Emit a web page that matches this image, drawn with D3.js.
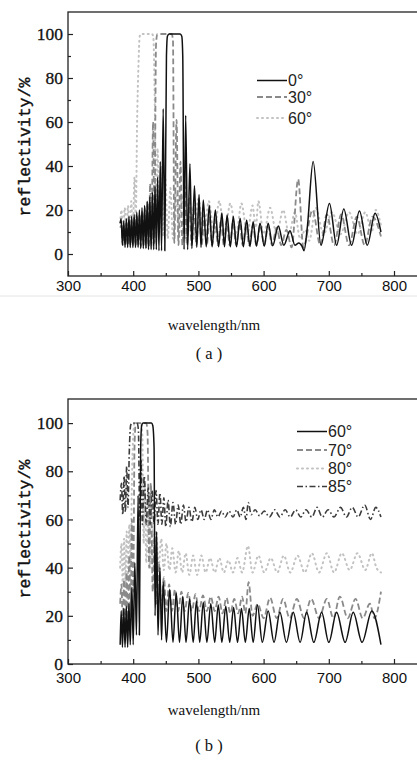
<!DOCTYPE html>
<html>
<head>
<meta charset="utf-8">
<script src="https://cdn.jsdelivr.net/npm/d3@7"></script>
<style>
  body { margin: 0; background: #fff; }
  svg { display: block; }
</style>
</head>
<body>
<script>
// ---- panel (a): reflectivity at 0°, 30°, 60° incidence ----
const wlA0 = [380,381.5,383.5,385.5,387.5,389.5,391.5,393.5,395.5,397.5,399.5,401.5,403.5,405.5,407.5,409.5,411.5,413.5,415.5,417.5,
  419.5,421.5,423.5,425.5,427.5,429.5,431.5,433.5,435.5,437.5,439.5,441.5,443.5,446,448.5,451,452.5,455,472,474.5,
  476,478,480.5,483.5,487,490,494,497.5,501,504,507.5,512,516.7,521,526,531,536,540,544,549,
  553.5,558.5,564,569,574,579,584,589,594.5,601,607,614,622.5,631,640.5,648,654,659,662,667,
  676,688,701,712,723,735,747,759,771,780]
const rA0 = [14,16,4,15,3,16,3,17,3,17,3,18,3,19,3,20,2.5,21,2.5,22,
  2.5,24,2,26,2,28,2,31,2,35,1.5,42,1.5,66,1.5,90,99,100,100,99,
  90,2,63,2,41,2.5,31,3,27,3,24.5,3.3,22,3.3,20,3.3,18.6,3.3,17.7,3.3,
  17,3.3,16.3,3.3,15.5,3.4,14.7,3.5,14,3.5,14,3.7,12.7,4,10.6,4,5,3.5,1.5,12,
  42,4,23,4,20.5,4,19.5,4,18.5,10]

const wlA30 = [380,382,384,386,388,390,392,394,396,398,400,402,404,406,408,410,412,414,416,418,420,422,424,426,428,
  430.5,432.5,435,437,459,461,463,466.5,469.5,472.5,475.5,479,482.5,486,489.5,493,497,
  501,505,509,513,517,521,525.5,530,534.5,539,543.5,548,553,558,563,568,573,578,583.5,589,
  595,601,607,613,620,627,635,643,653,661,675,687,697,708,719,731,743,755,767,780]
const rA30 = [12,13,4,13,4,14,4,14,4,15,4,16,4,17,4,18,3.5,19,3.5,21,3,24,3,32,3,
  60,5,95,100,100,97,5,61,4,42,4,31,4,25,4,22,4,
  20,4,18,4,17,4,16,4,15.5,4,15,4,14.5,4,14,4,13.5,4,13,4,
  13,4,12.5,4,12,4,11,3,34,3,20,4,18,4,18,4,17,4,17,8]

const wlA60 = [380,382,384.5,387,389.5,392,394.5,397,399.5,402,404,406,408,410,412,429,431,433,435,437.5,
  440,443,446,449.5,453,457,461,465.5,470,475,480,486,492,500,508,516,524,532,540,549,
  558,566,575,583,588,592,600,610,620,630,639,648,656,664,670,680,692,705,718,731,
  744,756,766,772,780]
const rA60 = [14,20,9,21,9,22,9,24,10,35,15,60,85,99,100,100,98,70,20,48,
  10,40,8,34,7,30,7,28,7,27,7,26,7,25,8,24,9,24,9,23,
  9,23,9,22,12,24,9,21,9,20,9,19,7,11,6,21,9,19,9,19,
  9,19,10,20,13]

// ---- panel (b): reflectivity at 60°, 70°, 80°, 85° incidence ----
const wlB60 = [380,381.5,383.5,385.5,387.5,389.5,391.5,393.5,395.5,398,400,402.5,405,407.5,409.5,411.5,413,415,428,430,
  432,433.5,436,438,441,443.5,446,451,456,461,466,471,476,481,486.5,492,497,502,507.5,513,
  519,525,530.5,536,542,548,554,560,566,572,578,584,590.5,598,607,616,625,635,645.5,656,
  666,677,689,700,712,725,737.5,751,766,780]
const rB60 = [8,22,7,23,7,24,7,25,8,32,8,42,12,70,12,90,99,100,100,99,
  90,20,55,12,40,10,34,9,31,9,29.5,9,28,9,27,9,26,9,25.5,9,
  25,9,24.5,9,24,9,23.5,9,23,9,23,9,24.5,9,22,9,21.5,9,21.5,9,
  21.5,9,21.5,9,21.5,9,21.5,9,22,8]

const wlB70 = [380,382,384,386,388,390,392,394,396,398,400,402,404,420,422,424.5,427,430,433,436,
  439.5,443,447,451,455,459.5,464,469,474,479,484.5,490,495.5,501,507,513,519,525,531,537,
  543,549,555,561,567,572,577,583,591,600,610,620,630,640,651,662,673,685,697,707,
  717,729,741,752,763,770,780]
const rB70 = [25,33,16,35,16,38,17,45,20,60,30,90,100,100,96,40,75,30,55,25,
  42,23,36,22,33,22,31,22,30,22,29.5,22,29,22,28.5,22,28,22,28,21,
  27.5,21,27,21,28,21,34,20,25,19,27.5,19,27,19,27,19,27,19,27,19,
  28,19,27,19,25,19,30]

const wlB80 = [380,382,384,386,388,390,392,394,396,398,400,402,412,414,416,418,420,423,426,429,
  432,435.5,439,443,447,451,455.5,460,465,470,475,480.5,486,492,498,504.5,511,518,525,532,
  539,546,553,560,567,576,583,592,601,611,621,631,641,652,663,674,685,697,708,720,
  732,744,756,766,773,780]
const rB80 = [40,50,33,52,34,55,36,58,40,75,95,100,100,95,50,75,42,62,40,57,
  40,54,40,52,39,50,39,48,38,47,38,46,37,45,37,45,38,44,38,44,
  38,43,38,44,38,49,38,45,38,44,38,45,38,45,38,46,38,46,38,46,
  39,46,39,46,40,38]

const wlB85 = [380,382,384,386,388,390,392,394,396,398,406,408,410,412,414,417,420,423,426,429,
  432,435,438,441,444,447,450,453.5,457,461,465,469,473,477,481,485.5,490,494.5,499,504,
  509,514,519,524.5,530,535.5,541,547,553,559,564,569,573,576.5,581,587,594,601,609,617,
  625,633,641,649,657,665,674,682,690,699,708,718,727,736,745,755,764,772,780]
const rB85 = [68,75,62,78,63,82,65,88,99,100,100,97,60,85,58,78,58,73,58,72,
  58,72,58,71,58,69,57,68,57,67,58,66,58,66,59,65,59,65,60,64,
  60,64,60,64,61,63.5,61,63.5,61,64,61,65,60,67,62,64,61.5,63.5,61,64,
  61,64,61,64,61,64,61,65,61,64,61,65,61,65,61,66,60,65,61]

// axis ticks and labels
const xTicks = [300,400,500,600,700,800]
const xMinor = [350,450,550,650,750,850]
const yTicks = [0,20,40,60,80,100]
const yMinor = [10,30,50,70,90]
const legendA = ['0°','30°','60°']
const legendB = ['60°','70°','80°','85°']

// line styles
const styles = {
  solid:   { stroke: '#111', width: 1.5, dash: null, cap: 'butt' },
  dash:    { stroke: '#8a8a8a', width: 1.8, dash: '6,3', cap: 'butt' },
  dot:     { stroke: '#c2c2c2', width: 2, dash: '1,4', cap: 'round' },
  dashdot: { stroke: '#3c3c3c', width: 1.6, dash: '6,2.5,1.5,2.5', cap: 'butt' }
}

const w = 417, h = 763
const svg = d3.select('body').append('svg').attr('width', w).attr('height', h)

const x = d3.scaleLinear().domain([300, 850]).range([68, 426.6])

// faint border of the first picture
svg.append('line').attr('x1', 0).attr('x2', w).attr('y1', 296).attr('y2', 296)
  .attr('stroke', '#e4e4e4').attr('stroke-width', 1)

const applyStyle = (sel, s) => {
  sel.attr('fill', 'none')
    .attr('stroke', s.stroke)
    .attr('stroke-width', s.width)
    .attr('stroke-dasharray', s.dash)
    .attr('stroke-linecap', s.cap)
    .attr('stroke-linejoin', 'round')
}

const drawPanel = (opt) => {
  const y = d3.scaleLinear().domain(opt.yDomain).range([opt.bottom, opt.top])
  const g = svg.append('g')

  const line = d3.line()
    .x(d => x(d[0]))
    .y(d => y(d[1]))
    .curve(d3.curveMonotoneX)

  // curves
  opt.series.forEach(s => {
    g.append('path')
      .datum(d3.zip(s.wl, s.r))
      .attr('d', line)
      .call(applyStyle, styles[s.style])
  })

  // frame
  g.append('rect')
    .attr('x', 68).attr('y', opt.top)
    .attr('width', 440).attr('height', opt.bottom - opt.top)
    .attr('fill', 'none').attr('stroke', '#222').attr('stroke-width', 1.3)

  // x axis
  const xa = g.append('g').attr('transform', `translate(0,${opt.bottom})`)
    .call(d3.axisBottom(x).tickValues(xTicks).tickSize(-5).tickPadding(opt.xPad))
  const xm = g.append('g').attr('transform', `translate(0,${opt.bottom})`)
    .call(d3.axisBottom(x).tickValues(xMinor).tickSize(-3).tickFormat(''))

  // y axis
  const ya = g.append('g').attr('transform', 'translate(68,0)')
    .call(d3.axisLeft(y).tickValues(yTicks).tickSize(-5).tickPadding(5))
  const ym = g.append('g').attr('transform', 'translate(68,0)')
    .call(d3.axisLeft(y).tickValues(yMinor).tickSize(-3).tickFormat(''))

  ;[xa, xm, ya, ym].forEach(a => {
    a.select('.domain').remove()
    a.selectAll('line').attr('stroke', '#222').attr('stroke-width', 1.2)
  })
  xa.selectAll('text').attr('font-family', '"Liberation Sans", Arial, sans-serif')
    .attr('font-size', 15).attr('fill', '#111')
  ya.selectAll('text').attr('font-family', '"Liberation Serif", serif')
    .attr('font-size', 17.5).attr('fill', '#111')
    .attr('stroke', '#111').attr('stroke-width', 0.3)

  // y title
  g.append('text')
    .attr('transform', `translate(30,${opt.titleY}) rotate(-90)`)
    .attr('text-anchor', 'middle')
    .attr('font-family', '"Liberation Mono", monospace')
    .attr('font-size', 16.5).attr('fill', '#111')
    .attr('stroke', '#111').attr('stroke-width', 0.4)
    .text('reflectivity/%')

  // legend
  opt.series.forEach((s, i) => {
    const ly = opt.legendY[i]
    g.append('line')
      .attr('x1', opt.legendX).attr('x2', opt.legendX + 30)
      .attr('y1', ly).attr('y2', ly)
      .call(applyStyle, styles[s.style])
    g.append('text')
      .attr('x', opt.legendX + 31).attr('y', ly)
      .attr('dy', '0.35em')
      .attr('font-family', '"Liberation Sans", Arial, sans-serif')
      .attr('font-size', 16).attr('fill', '#222')
      .text(opt.legend[i])
  })

  // captions
  g.append('text')
    .attr('x', 214).attr('y', opt.captionY)
    .attr('text-anchor', 'middle')
    .attr('font-family', '"Liberation Serif", serif')
    .attr('font-size', 15).attr('fill', '#111')
    .text('wavelength/nm')
  g.append('text')
    .attr('x', 209).attr('y', opt.letterY)
    .attr('text-anchor', 'middle')
    .attr('font-family', '"Liberation Serif", serif')
    .attr('font-size', 16.5).attr('fill', '#111')
    .attr('xml:space', 'preserve')
    .text(opt.letter)
}

drawPanel({
  top: 12, bottom: 276, yDomain: [-10, 110], titleY: 147, xPad: 4,
  series: [
    { wl: wlA60, r: rA60, style: 'dot' },
    { wl: wlA30, r: rA30, style: 'dash' },
    { wl: wlA0, r: rA0, style: 'solid' }
  ],
  legend: legendA.slice().reverse(),
  legendX: 257, legendY: [118, 97, 80.5],
  captionY: 330, letterY: 359, letter: '( a )'
})

drawPanel({
  top: 399, bottom: 664, yDomain: [0, 110], titleY: 529, xPad: 8,
  series: [
    { wl: wlB80, r: rB80, style: 'dot' },
    { wl: wlB70, r: rB70, style: 'dash' },
    { wl: wlB85, r: rB85, style: 'dashdot' },
    { wl: wlB60, r: rB60, style: 'solid' }
  ],
  legend: [legendB[2], legendB[1], legendB[3], legendB[0]],
  legendX: 297, legendY: [468.5, 450, 486.5, 431.5],
  captionY: 715, letterY: 751, letter: '( b )'
})
</script>
</body>
</html>
